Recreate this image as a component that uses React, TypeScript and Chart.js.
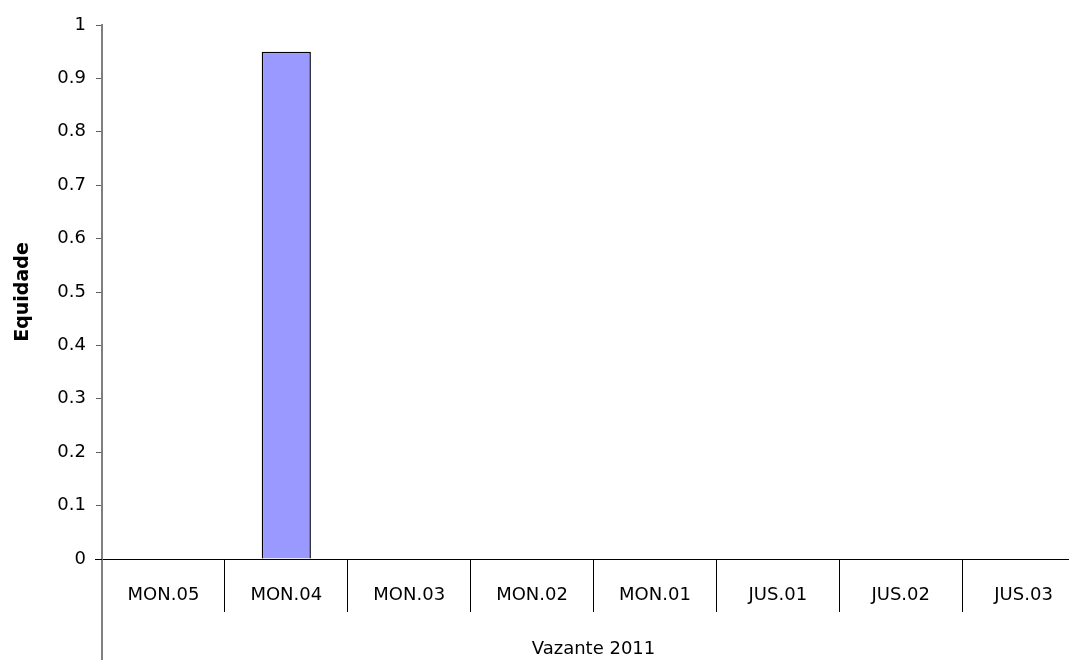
import React, { useEffect, useRef } from "react";
import { Chart, registerables } from "chart.js";

Chart.register(...registerables);

const categories = ["MON.05", "MON.04", "MON.03", "MON.02", "MON.01", "JUS.01", "JUS.02", "JUS.03"];
const equidade = [0, 0.95, 0, 0, 0, 0, 0, 0];
const yTicks = [0, 0.1, 0.2, 0.3, 0.4, 0.5, 0.6, 0.7, 0.8, 0.9, 1];
const yTitle = "Equidade";
const xTitle = "Vazante 2011";

const CANVAS_W = 1090;
const CANVAS_H = 662;

const axisExtension = {
  id: "axisExtension",
  afterDraw(chart: any) {
    const { ctx, chartArea } = chart;
    ctx.save();
    ctx.strokeStyle = "#808080";
    ctx.lineWidth = 2;
    ctx.beginPath();
    ctx.moveTo(chartArea.left, chartArea.bottom);
    ctx.lineTo(chartArea.left, chart.height - 2);
    ctx.stroke();
    ctx.strokeStyle = "#000000";
    ctx.lineWidth = 1;
    ctx.beginPath();
    ctx.moveTo(chartArea.left - 7, Math.round(chartArea.bottom) + 0.5);
    ctx.lineTo(chartArea.left, Math.round(chartArea.bottom) + 0.5);
    ctx.stroke();
    ctx.restore();
  },
};

export default function App() {
  const ref = useRef<HTMLCanvasElement | null>(null);

  useEffect(() => {
    if (!ref.current) return;
    Chart.defaults.font.family = "'DejaVu Sans', Verdana, sans-serif";
    const chart = new Chart(ref.current, {
      type: "bar",
      data: {
        labels: categories,
        datasets: [
          {
            label: yTitle,
            data: equidade,
            backgroundColor: "#9999FF",
            borderColor: "#000000",
            borderWidth: 1.5,
            categoryPercentage: 1,
            barPercentage: 0.4,
          },
        ],
      },
      options: {
        responsive: false,
        animation: false,
        devicePixelRatio: 1,
        layout: { padding: { left: 0, top: 25, right: CANVAS_W - 1085, bottom: 0 } },
        plugins: {
          legend: { display: false },
          tooltip: { enabled: false },
        },
        scales: {
          x: {
            type: "category",
            grid: {
              display: true,
              drawOnChartArea: false,
              drawTicks: true,
              tickLength: 53,
              color: "#000000",
              lineWidth: 1,
              offset: true,
            },
            border: { display: true, color: "#000000", width: 1 },
            ticks: {
              color: "#000000",
              font: { size: 18 },
              padding: -27,
              maxRotation: 0,
              autoSkip: false,
            },
            title: {
              display: true,
              text: xTitle,
              color: "#000000",
              font: { size: 18 },
              padding: { top: 0, bottom: 2 },
            },
            afterFit(scale: any) {
              scale.height = CANVAS_H - 559;
            },
          },
          y: {
            type: "linear",
            min: 0,
            max: 1,
            afterBuildTicks(scale: any) {
              scale.ticks = yTicks.map((v) => ({ value: v }));
            },
            grid: {
              display: true,
              drawOnChartArea: false,
              tickLength: 6,
              color: "#606060",
              lineWidth: 1,
            },
            border: { display: true, color: "#808080", width: 2 },
            ticks: {
              color: "#000000",
              font: { size: 18 },
              padding: 10,
              callback: (v: any) => String(v),
            },
            title: {
              display: true,
              text: yTitle,
              color: "#000000",
              font: { size: 19, weight: "bold" },
              padding: { top: 12, bottom: 0 },
            },
            afterFit(scale: any) {
              scale.width = 102;
            },
          },
        },
      },
      plugins: [axisExtension],
    });
    return () => chart.destroy();
  }, []);

  return (
    <div
      style={{
        position: "fixed",
        left: 0,
        top: 0,
        width: 1069,
        height: 662,
        overflow: "hidden",
        background: "#ffffff",
      }}
    >
      <canvas ref={ref} width={CANVAS_W} height={CANVAS_H} style={{ display: "block" }} />
    </div>
  );
}
